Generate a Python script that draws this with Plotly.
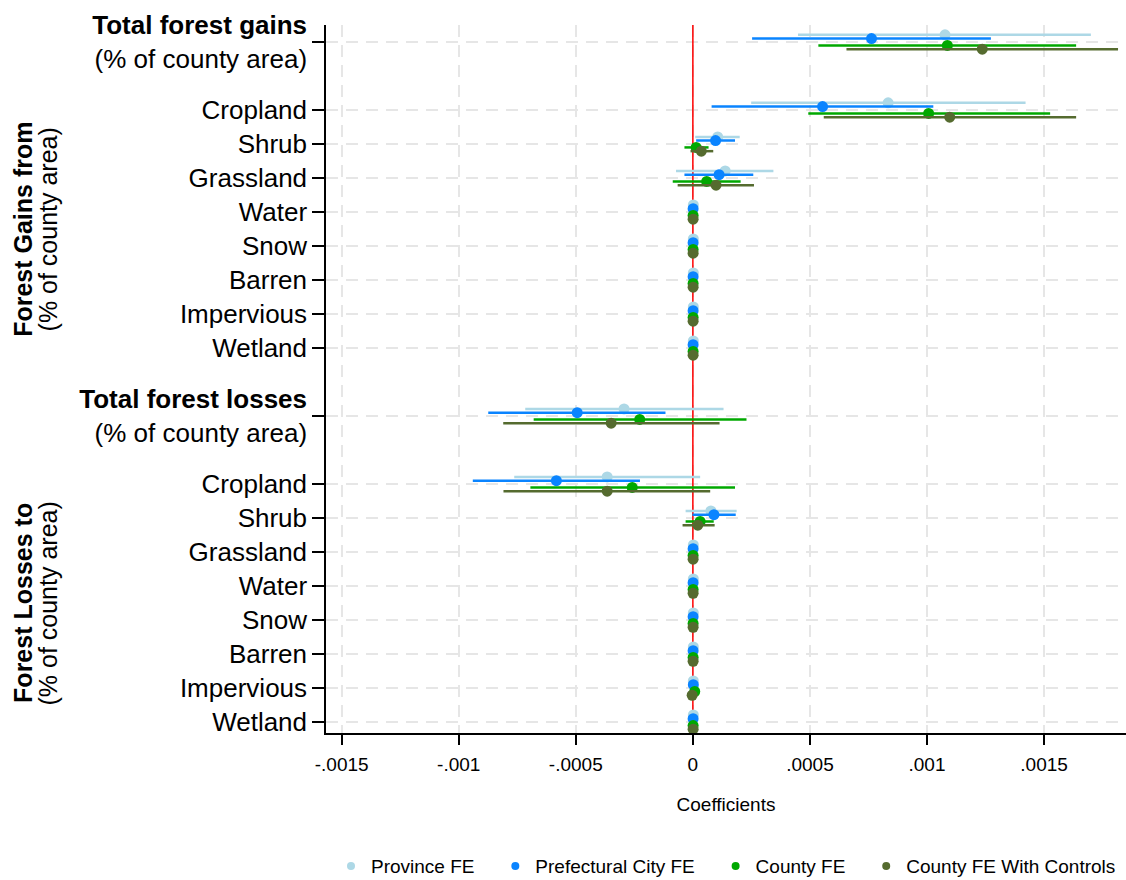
import plotly.graph_objects as go

# ---------------- data ----------------
group_titles = ["<b>Total forest gains</b><br>(% of county area)",
                "<b>Total forest losses</b><br>(% of county area)"]
sub_categories = ["Cropland", "Shrub", "Grassland", "Water", "Snow",
                  "Barren", "Impervious", "Wetland"]
group_axis_titles = [("Forest Gains from", "(% of county area)"),
                     ("Forest Losses to", "(% of county area)")]

series_names = ["Province FE", "Prefectural City FE", "County FE",
                "County FE With Controls"]
series_colors = ["#add8e6", "#0a84ff", "#00a800", "#556b2f"]

# order: gains total, 8 gains subcats, losses total, 8 losses subcats
province_coef = [0.001077, 0.000834, 0.000106, 0.000138, 0.000002, 0.000002, 0.000002, 0.000002, 0.000002,
                 -0.000294, -0.000366, 0.000077, 0.000002, 0.000002, 0.000002, 0.000002, 0.000002, 0.000002]
province_lo = [0.000449, 0.000249, 0.000010, -0.000072, -0.000003, -0.000003, -0.000003, -0.000003, -0.000003,
               -0.000716, -0.000763, -0.000031, -0.000003, -0.000003, -0.000003, -0.000003, -0.000003, -0.000003]
province_hi = [0.001700, 0.001421, 0.000200, 0.000344, 0.000007, 0.000007, 0.000007, 0.000007, 0.000007,
               0.000131, 0.000031, 0.000187, 0.000007, 0.000007, 0.000007, 0.000007, 0.000007, 0.000007]

city_coef = [0.000763, 0.000554, 0.000097, 0.000112, 0.000001, 0.000001, 0.000001, 0.000001, 0.000001,
             -0.000494, -0.000583, 0.000090, 0.000001, 0.000001, 0.000001, 0.000001, 0.000002, 0.000001]
city_lo = [0.000253, 0.000080, 0.000014, -0.000036, -0.000004, -0.000004, -0.000004, -0.000004, -0.000004,
           -0.000874, -0.000940, -0.000002, -0.000004, -0.000004, -0.000004, -0.000004, -0.000004, -0.000004]
city_hi = [0.001273, 0.001027, 0.000180, 0.000258, 0.000006, 0.000006, 0.000006, 0.000006, 0.000006,
           -0.000117, -0.000226, 0.000183, 0.000006, 0.000006, 0.000006, 0.000006, 0.000008, 0.000006]

county_coef = [0.001087, 0.001007, 0.000014, 0.000059, 0.000001, 0.000001, 0.000001, 0.000001, 0.000001,
               -0.000227, -0.000259, 0.000031, 0.000001, 0.000001, 0.000001, 0.000001, 0.000008, 0.000001]
county_lo = [0.000536, 0.000493, -0.000036, -0.000086, -0.000004, -0.000004, -0.000004, -0.000004, -0.000004,
             -0.000680, -0.000694, -0.000031, -0.000004, -0.000004, -0.000004, -0.000004, 0.000001, -0.000004]
county_hi = [0.001637, 0.001526, 0.000067, 0.000204, 0.000006, 0.000006, 0.000006, 0.000006, 0.000006,
             0.000229, 0.000180, 0.000089, 0.000006, 0.000006, 0.000006, 0.000006, 0.000015, 0.000006]

controls_coef = [0.001236, 0.001097, 0.000036, 0.000099, 0.000001, 0.000001, 0.000001, 0.000001, 0.000001,
                 -0.000349, -0.000366, 0.000021, 0.000001, 0.000001, 0.000001, 0.000001, -0.000003, 0.000001]
controls_lo = [0.000656, 0.000559, -0.000010, -0.000065, -0.000004, -0.000004, -0.000004, -0.000004, -0.000004,
               -0.000810, -0.000809, -0.000044, -0.000004, -0.000004, -0.000004, -0.000004, -0.000009, -0.000004]
controls_hi = [0.001816, 0.001637, 0.000087, 0.000261, 0.000006, 0.000006, 0.000006, 0.000006, 0.000006,
               0.000114, 0.000074, 0.000093, 0.000006, 0.000006, 0.000006, 0.000006, 0.000003, 0.000006]

x_tickvals = [-0.0015, -0.001, -0.0005, 0, 0.0005, 0.001, 0.0015]
x_ticktext = ["-.0015", "-.001", "-.0005", "0", ".0005", ".001", ".0015"]

# ---------------- layout of rows ----------------
row_pos, row_text, group_centers = [], [], []
k = 0
for gi in range(2):
    row_pos.append(k)
    row_text.append(group_titles[gi])
    k += 2
    first = k
    for c in sub_categories:
        row_pos.append(k)
        row_text.append(c)
        k += 1
    group_centers.append((first + k - 1) / 2)
    k += 1

Y_RANGE = [20.32, -0.5]

series = [
    (province_coef, province_lo, province_hi),
    (city_coef, city_lo, city_hi),
    (county_coef, county_lo, county_hi),
    (controls_coef, controls_lo, controls_hi),
]
offsets = [-0.21, -0.1, 0.1, 0.21]

FONT = "Liberation Sans, Arial, Helvetica, sans-serif"

fig = go.Figure()
# red reference line at zero (drawn first so markers sit on top of it)
fig.add_trace(go.Scatter(x=[0, 0], y=Y_RANGE, mode="lines",
                         line=dict(color="red", width=1.5),
                         showlegend=False, hoverinfo="skip"))
for (coef, lo, hi), name, col, off in zip(series, series_names, series_colors, offsets):
    fig.add_trace(go.Scatter(
        x=coef, y=[p + off for p in row_pos], mode="markers", name=name,
        marker=dict(color=col, size=11),
        error_x=dict(type="data", symmetric=False,
                     array=[h - c for h, c in zip(hi, coef)],
                     arrayminus=[c - l for c, l in zip(coef, lo)],
                     color=col, thickness=2.5, width=0),
        showlegend=False,
    ))
# legend entries (small dots); trailing no-break spaces widen the gap between items
for i, (name, col) in enumerate(zip(series_names, series_colors)):
    pad = "\u00a0" * 3 if i < len(series_names) - 1 else ""
    fig.add_trace(go.Scatter(x=[None], y=[None], mode="markers", name=name + pad,
                             marker=dict(color=col, size=8)))

for (bold, reg), yc in zip(group_axis_titles, group_centers):
    fig.add_annotation(text="<b>%s</b>" % bold, x=-0.379, xref="paper", y=yc, yref="y",
                       textangle=-90, showarrow=False, xanchor="center", yanchor="middle",
                       font=dict(size=25, color="black", family=FONT))
    fig.add_annotation(text=reg, x=-0.347, xref="paper", y=yc, yref="y",
                       textangle=-90, showarrow=False, xanchor="center", yanchor="middle",
                       font=dict(size=25, color="black", family=FONT))

fig.update_layout(
    width=1126, height=880,
    margin=dict(l=326, r=0, t=25, b=147, autoexpand=False),
    paper_bgcolor="white", plot_bgcolor="white",
    font=dict(family=FONT, color="black"),
    legend=dict(orientation="h", x=0.5, xanchor="center", y=-0.188, yanchor="middle",
                font=dict(size=19), itemwidth=30),
)
fig.update_xaxes(
    range=[-0.001567, 0.00185], tickvals=x_tickvals, ticktext=x_ticktext,
    showline=True, linecolor="black", linewidth=1.5,
    ticks="outside", ticklen=10, tickwidth=1.5, tickcolor="black",
    tickfont=dict(size=19), zeroline=False, ticklabelstandoff=3,
    showgrid=True, gridcolor="#e6e6e6", gridwidth=2, griddash="12px,8px",
    title=dict(text="Coefficients", font=dict(size=19), standoff=24),
    automargin=False,
)
fig.update_yaxes(
    range=Y_RANGE, tickvals=row_pos, ticktext=row_text,
    showline=True, linecolor="black", linewidth=1.5,
    ticks="outside", ticklen=12, tickwidth=1.5, tickcolor="black",
    tickfont=dict(size=26), zeroline=False,
    showgrid=True, gridcolor="#e6e6e6", gridwidth=2, griddash="12px,8px",
    automargin=False,
)

fig.write_html("out.html")
